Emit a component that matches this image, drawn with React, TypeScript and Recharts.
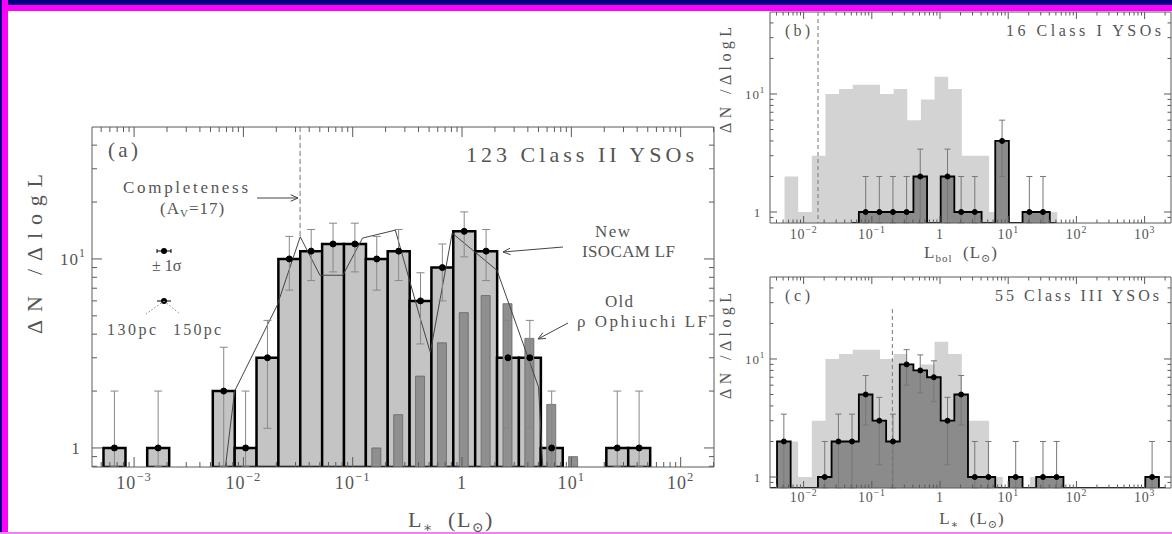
import React from 'react';
import { ComposedChart, Bar, Line, Area, XAxis, YAxis, ErrorBar, ReferenceLine } from 'recharts';

const FONT = '"Liberation Serif", "DejaVu Serif", serif';
const INK = '#555';
const AXIS = '#5a5a5a';

// (a) Class II YSOs: bin centres in log10(L*), counts and 1-sigma errors
const class2LogL = [-3.38, -3.18, -2.98, -2.78, -2.58, -2.38, -2.18, -1.98, -1.78, -1.58, -1.38, -1.18, -0.98, -0.78, -0.58, -0.38, -0.18, 0.02, 0.22, 0.42, 0.62, 0.82, 1.02, 1.22, 1.42, 1.62, 1.82];
const class2N = [0, 1, 0, 1, 0, 0, 2, 1, 3, 10, 11, 12, 12, 10, 11, 6, 9, 14, 11, 3, 3, 1, 0, 0, 1, 1, 0];
const class2Err = [0, 1, 0, 1, 0, 0, 1.41, 1, 1.73, 3.16, 3.32, 3.46, 3.46, 3.16, 3.32, 2.45, 3, 3.74, 3.32, 1.73, 1.73, 1, 0, 0, 1, 1, 0];
// old rho Ophiuchi LF (narrow dark bars), same bins
const oldLF = [0, 0, 0, 0, 0, 0, 0, 0, 0, 0, 0, 0, 0, 1.0, 1.5, 2.4, 3.6, 5.2, 6.4, 5.8, 3.8, 1.7, 0.9, 0, 0, 0, 0];
// thin line
const lineLogL = [-2.19, -2.08, -1.69, -1.48, -1.30, -1.09, -0.91, -0.61, -0.38, -0.29, -0.09, 0.32, 0.70, 0.75];
const lineN = [0.6, 2.0, 5.7, 13.1, 8.2, 8.2, 12.9, 14.2, 4.8, 3.2, 13.7, 8.7, 2.1, 0.6];

// (b) Class I YSOs
const class1LogL = [-1.29, -1.09, -0.89, -0.69, -0.49, -0.29, -0.09, 0.11, 0.31, 0.51, 0.71, 0.91, 1.11, 1.31, 1.51, 1.71];
const class1N = [0, 1, 1, 1, 1, 2, 0, 2, 1, 1, 0, 4, 0, 1, 1, 0];
const class1Err = [0, 1, 1, 1, 1, 1.41, 0, 1.41, 1, 1, 0, 2, 0, 1, 1, 0];

// (c) Class III YSOs
const class3LogL = [-2.49, -2.29, -2.09, -1.89, -1.69, -1.49, -1.29, -1.09, -0.89, -0.69, -0.49, -0.29, -0.09, 0.11, 0.31, 0.51, 0.71, 0.91, 1.11, 1.31, 1.51, 1.71, 1.91, 2.11, 2.31, 2.51, 2.71, 2.91, 3.11, 3.31];
const class3N = [0, 2, 0, 0, 1, 2, 2, 5, 3, 2, 9, 8, 7, 3, 5, 1, 1, 0, 1, 0, 1, 1, 0, 0, 0, 0, 0, 0, 1, 0];
const class3Err = [0, 1.41, 0, 0, 1, 1.41, 1.41, 2.24, 1.73, 1.41, 3, 2.83, 2.65, 1.73, 2.24, 1, 1, 0, 1, 0, 1, 1, 0, 0, 0, 0, 0, 0, 1, 0];

// axis ticks
const decades = [1e-4, 1e-3, 1e-2, 1e-1, 1, 10, 100, 1000];
const steps = [1, 2, 3, 4, 5, 6, 7, 8, 9];
const yDecades = [0.1, 1, 10];

const domXA: [number, number] = [Math.pow(10, -3.385), Math.pow(10, 2.305)];
const domYA: [number, number] = [0.793, 49.9];
const domXB: [number, number] = [Math.pow(10, -2.493), Math.pow(10, 3.387)];
const domYB: [number, number] = [0.807, 49.5];

function ticksIn(dec: number[], dom: [number, number]) {
  const out: number[] = [];
  dec.forEach((d) => steps.forEach((s) => {
    const v = d * s;
    if (v >= dom[0] && v <= dom[1]) out.push(v);
  }));
  return out;
}

const ticksXA = ticksIn(decades, domXA);
const ticksYA = ticksIn(yDecades, domYA);
const ticksXB = ticksIn(decades, domXB);
const ticksYB = ticksIn(yDecades, domYB);

const errPair = (n: number, e: number, lo: number) =>
  n > 0 ? [Math.min(e, n - lo * 1.005), e] : null;

const tableA = class2LogL.map((lg, i) => ({
  L: Math.pow(10, lg),
  n: class2N[i] > 0 ? class2N[i] : null,
  old: oldLF[i] > 0 ? oldLF[i] : null,
  e: errPair(class2N[i], class2Err[i], domYA[0]),
}));
const lineTable = lineLogL.map((lg, i) => ({ L: Math.pow(10, lg), v: lineN[i] }));

const histTable = (lgs: number[], ns: number[], errs: number[]) =>
  lgs.map((lg, i) => ({
    L: Math.pow(10, lg),
    h: Math.max(ns[i], domYB[0]),
    n: ns[i] > 0 ? ns[i] : null,
    e: errPair(ns[i], errs[i], domYB[0]),
  }));
const table2 = histTable(class2LogL, class2N, class2Err);
const table1 = histTable(class1LogL, class1N, class1Err);
const table3 = histTable(class3LogL, class3N, class3Err);

type Side = 'bottom' | 'top' | 'left' | 'right';
function tickFn(side: Side, major: number, minor: number, font: number, gap: number, labels: boolean) {
  return (p: any) => {
    const { x, y, payload } = p;
    const v = Number(payload.value);
    const lg = Math.log10(v);
    const e = Math.round(lg);
    const maj = Math.abs(lg - e) < 1e-6;
    const len = maj ? major : minor;
    const dx = side === 'left' ? len : side === 'right' ? -len : 0;
    const dy = side === 'bottom' ? -len : side === 'top' ? len : 0;
    let label = null;
    if (labels && maj) {
      const sup = e === 0 ? null : (
        <tspan dy={-font * 0.45} fontSize={font * 0.7}>{e < 0 ? '\u2212' + -e : String(e)}</tspan>
      );
      const base = e === 0 ? '1' : '10';
      if (side === 'bottom') {
        label = (
          <text x={x} y={y + gap} textAnchor="middle" fontSize={font} fill={INK} fontFamily={FONT} letterSpacing={font * 0.06}>
            {base}{sup}
          </text>
        );
      } else {
        label = (
          <text x={x - (e === 0 ? gap + font * 0.3 : gap)} y={y + font * 0.35} textAnchor="end" fontSize={font} fill={INK} fontFamily={FONT} letterSpacing={font * 0.06}>
            {base}{sup}
          </text>
        );
      }
    }
    return (
      <g>
        <line x1={x} y1={y} x2={x + dx} y2={y + dy} stroke={AXIS} strokeWidth={1} />
        {label}
      </g>
    );
  };
}

const logX = (id: any, dom: [number, number], ticks: number[], extra: any) => (
  <XAxis
    xAxisId={id}
    dataKey="L"
    type="number"
    scale="log"
    domain={dom}
    allowDataOverflow
    ticks={ticks}
    interval={0}
    tickSize={0}
    tickMargin={0}
    height={1}
    tickLine={false}
    axisLine={{ stroke: AXIS, strokeWidth: 1 }}
    {...extra}
  />
);

const logY = (id: any, dom: [number, number], ticks: number[], extra: any) => (
  <YAxis
    yAxisId={id}
    type="number"
    scale="log"
    domain={dom}
    allowDataOverflow
    ticks={ticks}
    interval={0}
    tickSize={0}
    tickMargin={0}
    width={1}
    tickLine={false}
    axisLine={{ stroke: AXIS, strokeWidth: 1 }}
    {...extra}
  />
);

function PanelA() {
  return (
    <ComposedChart width={760} height={534} data={tableA} margin={{ top: 126, right: 45, bottom: 66, left: 91 }} barCategoryGap={0} barGap={0}>
      {logX(0, domXA, ticksXA, { tick: tickFn('bottom', 10, 5, 18, 22, true) })}
      {logX('top', domXA, ticksXA, { orientation: 'top', tick: tickFn('top', 10, 5, 18, 0, false) })}
      {logX('old', domXA, ticksXA, { hide: true })}
      {logX('thin', domXA, ticksXA, { hide: true })}
      {logY(0, domYA, ticksYA, { tick: tickFn('left', 10, 5, 17, 6, true) })}
      {logY('r', domYA, ticksYA, { orientation: 'right', tick: tickFn('right', 10, 5, 17, 0, false) })}
      <Bar dataKey="n" fill="#c4c4c4" stroke="#000" strokeWidth={2.5} isAnimationActive={false} />
      <Bar xAxisId="old" dataKey="old" barSize={9} fill="#8f8f8f" stroke="#666" strokeWidth={0.8} isAnimationActive={false} />
      <Line xAxisId="thin" data={lineTable} dataKey="v" type="linear" stroke="#444" strokeWidth={1} dot={false} activeDot={false} isAnimationActive={false} />
      <ReferenceLine segment={[{ x: 0.033, y: domYA[1] }, { x: 0.033, y: 13 }]} stroke="#777" strokeDasharray="5 3" />
      <Line dataKey="n" stroke="none" dot={{ r: 3, fill: '#000', stroke: '#000' }} activeDot={false} isAnimationActive={false}>
        <ErrorBar dataKey="e" direction="y" width={4} stroke="#888" strokeWidth={1} isAnimationActive={false} />
      </Line>
    </ComposedChart>
  );
}

function PanelBC({ table, height, margin, gap, refSeg }: { table: any[]; height: number; margin: any; gap: number; refSeg: any }) {
  return (
    <ComposedChart width={500} height={height} margin={margin}>
      {logX(0, domXB, ticksXB, { tick: tickFn('bottom', 7, 3.5, 14, gap, true) })}
      {logX('top', domXB, ticksXB, { orientation: 'top', tick: tickFn('top', 7, 3.5, 14, 0, false) })}
      {logY(0, domYB, ticksYB, { tick: tickFn('left', 7, 3.5, 13, 5, true) })}
      {logY('r', domYB, ticksYB, { orientation: 'right', tick: tickFn('right', 7, 3.5, 13, 0, false) })}
      <Area data={table2} dataKey="h" type="step" baseValue="dataMin" fill="#d3d3d3" fillOpacity={1} stroke="none" isAnimationActive={false} activeDot={false} />
      <Area data={table} dataKey="h" type="step" baseValue="dataMin" fill="#8b8b8b" fillOpacity={1} stroke="#000" strokeWidth={1.8} isAnimationActive={false} activeDot={false} />
      <ReferenceLine segment={refSeg} stroke="#777" strokeDasharray="4 3" />
      <Line data={table} dataKey="n" stroke="none" dot={{ r: 2.5, fill: '#000', stroke: '#000' }} activeDot={false} isAnimationActive={false}>
        <ErrorBar dataKey="e" direction="y" width={3} stroke="#777" strokeWidth={1} isAnimationActive={false} />
      </Line>
    </ComposedChart>
  );
}

function Arrow({ x1, y1, x2, y2 }: { x1: number; y1: number; x2: number; y2: number }) {
  const a = Math.atan2(y2 - y1, x2 - x1);
  const h = 8;
  const w = 0.42;
  const p1 = `${x2 - h * Math.cos(a - w)},${y2 - h * Math.sin(a - w)}`;
  const p2 = `${x2 - h * Math.cos(a + w)},${y2 - h * Math.sin(a + w)}`;
  return (
    <g stroke="#444" strokeWidth={1} fill="none">
      <line x1={x1} y1={y1} x2={x2} y2={y2} />
      <polyline points={`${p1} ${x2},${y2} ${p2}`} />
    </g>
  );
}

function Overlay() {
  const t = { fill: INK, fontFamily: FONT } as const;
  return (
    <svg width={1172} height={534} style={{ position: 'absolute', left: 0, top: 0, pointerEvents: 'none' }}>
      {/* panel (a) */}
      <text x={108} y={157} fontSize={21} textLength={30} lengthAdjust="spacing" {...t}>(a)</text>
      <text x={466} y={162} fontSize={22} textLength={228} lengthAdjust="spacing" {...t}>123 Class II YSOs</text>
      <text x={123} y={193} fontSize={17} textLength={125} lengthAdjust="spacing" {...t}>Completeness</text>
      <text x={160} y={214} fontSize={17} letterSpacing={1} {...t}>
        (A<tspan dy={3} fontSize={11}>V</tspan><tspan dy={-3}>=17)</tspan>
      </text>
      <Arrow x1={257} y1={198} x2={298} y2={198} />
      <g stroke="#000" strokeWidth={1}>
        <line x1={157} y1={251} x2={171} y2={251} />
        <line x1={157} y1={249} x2={157} y2={253} />
        <line x1={171} y1={249} x2={171} y2={253} />
        <line x1={157} y1={301} x2={171} y2={301} />
      </g>
      <circle cx={164} cy={251} r={3} fill="#000" />
      <circle cx={164} cy={301} r={3} fill="#000" />
      <g stroke="#888" strokeWidth={1} strokeDasharray="1.5 2">
        <line x1={164} y1={301} x2={146} y2={314} />
        <line x1={164} y1={301} x2={180} y2={314} />
      </g>
      <text x={152} y={271} fontSize={16} {...t}>± 1σ</text>
      <text x={107} y={335} fontSize={16} textLength={49} lengthAdjust="spacing" {...t}>130pc</text>
      <text x={173} y={335} fontSize={16} textLength={48} lengthAdjust="spacing" {...t}>150pc</text>
      <text x={595} y={237} fontSize={17} textLength={35} lengthAdjust="spacing" {...t}>New</text>
      <text x={582} y={257} fontSize={17} textLength={93} lengthAdjust="spacing" {...t}>ISOCAM LF</text>
      <Arrow x1={563} y1={247} x2={503} y2={252} />
      <text x={605} y={307} fontSize={17} textLength={28} lengthAdjust="spacing" {...t}>Old</text>
      <text x={577} y={327} fontSize={17} textLength={130} lengthAdjust="spacing" {...t}>ρ Ophiuchi LF</text>
      <Arrow x1={568} y1={323} x2={538} y2={339} />
      <text transform="translate(42,254) rotate(-90)" textAnchor="middle" fontSize={22} textLength={160} lengthAdjust="spacing" {...t}>ΔN /ΔlogL</text>
      <text x={451} y={527} textAnchor="middle" fontSize={22} letterSpacing={1.5} {...t} xmlSpace="preserve">
        L<tspan dy={5} fontSize={14}>∗</tspan><tspan dy={-5}>  (L</tspan><tspan dy={5} fontSize={14}>⊙</tspan><tspan dy={-5}>)</tspan>
      </text>

      {/* panel (b) */}
      <text x={785} y={36} fontSize={16} textLength={25} lengthAdjust="spacing" {...t}>(b)</text>
      <text x={1006} y={36} fontSize={16} textLength={155} lengthAdjust="spacing" {...t}>16 Class I YSOs</text>
      <text transform="translate(731,80) rotate(-90)" textAnchor="middle" fontSize={16} textLength={106} lengthAdjust="spacing" {...t}>ΔN /ΔlogL</text>
      <text x={961} y={258} textAnchor="middle" fontSize={17} letterSpacing={1} {...t} xmlSpace="preserve">
        L<tspan dy={4} fontSize={11}>bol</tspan><tspan dy={-4}>  (L</tspan><tspan dy={4} fontSize={11}>⊙</tspan><tspan dy={-4}>)</tspan>
      </text>

      {/* panel (c) */}
      <text x={785} y={301} fontSize={16} textLength={25} lengthAdjust="spacing" {...t}>(c)</text>
      <text x={995} y={301} fontSize={16} textLength={164} lengthAdjust="spacing" {...t}>55 Class III YSOs</text>
      <text transform="translate(731,346) rotate(-90)" textAnchor="middle" fontSize={16} textLength={106} lengthAdjust="spacing" {...t}>ΔN /ΔlogL</text>
      <text x={972} y={524} textAnchor="middle" fontSize={17} letterSpacing={1} {...t} xmlSpace="preserve">
        L<tspan dy={4} fontSize={11}>∗</tspan><tspan dy={-4}>  (L</tspan><tspan dy={4} fontSize={11}>⊙</tspan><tspan dy={-4}>)</tspan>
      </text>

      {/* frame */}
      <rect x={0} y={0} width={1172} height={11} fill="#ff00ff" />
      <rect x={0} y={0} width={1172} height={5} fill="#000080" />
      <rect x={0} y={0} width={8} height={534} fill="#ff00ff" />
      <rect x={0} y={0} width={2} height={534} fill="#000080" />
      <rect x={0} y={532} width={1172} height={2} fill="#ee82ee" />
    </svg>
  );
}

export default function App() {
  return (
    <div style={{ position: 'fixed', left: 0, top: 0, width: 1172, height: 534, overflow: 'hidden', background: '#fff' }}>
      <div style={{ position: 'absolute', left: 0, top: 0 }}>
        <PanelA />
      </div>
      <div style={{ position: 'absolute', left: 700, top: 0 }}>
        <PanelBC
          table={table1}
          height={270}
          margin={{ top: 11, right: 28, bottom: 46, left: 69 }}
          gap={16}
          refSeg={[{ x: 0.01626, y: domYB[1] }, { x: 0.01626, y: domYB[0] }]}
        />
      </div>
      <div style={{ position: 'absolute', left: 700, top: 250 }}>
        <PanelBC
          table={table3}
          height={284}
          margin={{ top: 26, right: 28, bottom: 45, left: 69 }}
          gap={14}
          refSeg={[{ x: 0.2, y: 26.5 }, { x: 0.2, y: domYB[0] }]}
        />
      </div>
      <Overlay />
    </div>
  );
}
